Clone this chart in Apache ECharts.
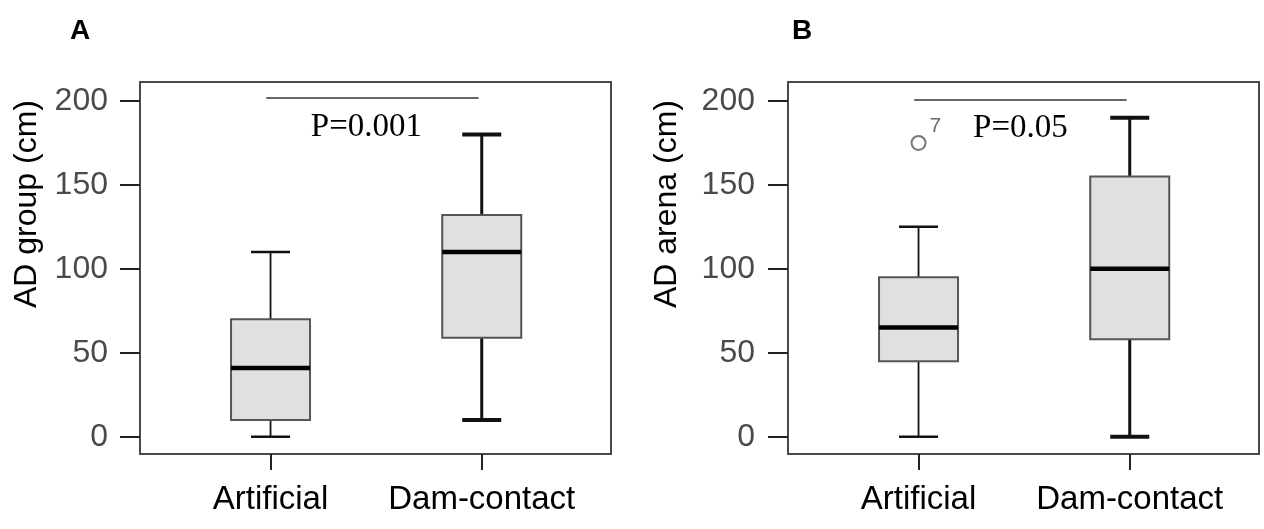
<!DOCTYPE html>
<html>
<head>
<meta charset="utf-8">
<script src="https://cdn.jsdelivr.net/npm/echarts@6/dist/echarts.min.js"></script>
<style>
  html, body { margin: 0; padding: 0; background: #fff; }
  #chart { width: 1264px; height: 529px; }
</style>
</head>
<body>
<div id="chart"></div>
<script>
var categories = ['Artificial', 'Dam-contact'];
var yTicks = [0, 50, 100, 150, 200];
// [min, Q1, median, Q3, max] per category
var groupBoxes = [[0, 10, 41, 70, 110], [10, 59, 110, 132, 180]];
var arenaBoxes = [[0, 45, 65, 95, 125], [0, 58, 100, 155, 190]];
// [category index, value, case number]
var arenaOutliers = [[0, 175, '7']];
var groupP = 'P=0.001';
var arenaP = 'P=0.05';

var SANS = "'Liberation Sans', Arial, sans-serif";
var SERIF = "'Liberation Serif', 'Times New Roman', serif";
var BOX_W = 79;
var CAP_W = 39;
// whisker / cap thickness per category (the second group is drawn heavier)
var whiskerLine = [1.8, 3];
var capLine = [2.5, 4];

function renderBox(params, api) {
  var x = api.value(0);
  var lo = api.coord([x, api.value(1)]);
  var q1 = api.coord([x, api.value(2)]);
  var md = api.coord([x, api.value(3)]);
  var q3 = api.coord([x, api.value(4)]);
  var hi = api.coord([x, api.value(5)]);
  var cx = lo[0], hw = BOX_W / 2, hc = CAP_W / 2;
  var i = params.dataIndex;
  var ws = { stroke: '#111', lineWidth: whiskerLine[i] };
  var cs = { stroke: '#111', lineWidth: capLine[i] };
  return {
    type: 'group',
    children: [
      { type: 'line', shape: { x1: cx, y1: q1[1], x2: cx, y2: lo[1] }, style: ws },
      { type: 'line', shape: { x1: cx, y1: q3[1], x2: cx, y2: hi[1] }, style: ws },
      { type: 'line', shape: { x1: cx - hc, y1: lo[1], x2: cx + hc, y2: lo[1] }, style: cs },
      { type: 'line', shape: { x1: cx - hc, y1: hi[1], x2: cx + hc, y2: hi[1] }, style: cs },
      { type: 'rect', shape: { x: cx - hw, y: q3[1], width: BOX_W, height: q1[1] - q3[1] },
        style: { fill: '#e0e0e0', stroke: '#555', lineWidth: 2 } },
      { type: 'line', shape: { x1: cx - hw, y1: md[1], x2: cx + hw, y2: md[1] },
        style: { stroke: '#000', lineWidth: 4.5 } }
    ]
  };
}

function makeX(idx) {
  return {
    gridIndex: idx,
    type: 'value',
    min: -0.618,
    max: 1.612,
    axisLine: { show: false, onZero: false },
    axisTick: { show: true, customValues: [0, 1], length: 16, lineStyle: { color: '#222', width: 2 } },
    axisLabel: {
      customValues: [0, 1],
      formatter: function (v) { return categories[Math.round(v)]; },
      fontFamily: SANS, fontSize: 33, color: '#000', margin: 29
    },
    splitLine: { show: false }
  };
}

function makeY(idx, name, gap, labelMargin) {
  return {
    gridIndex: idx,
    type: 'value',
    min: -10.3,
    max: 211.3,
    axisLine: { show: false, onZero: false },
    axisTick: { show: true, customValues: yTicks, length: 20, lineStyle: { color: '#222', width: 2 } },
    axisLabel: { customValues: yTicks, fontFamily: SANS, fontSize: 32, color: '#4a4a4a', margin: labelMargin },
    splitLine: { show: false },
    name: name,
    nameLocation: 'middle',
    nameGap: gap,
    nameTextStyle: { fontFamily: SANS, fontSize: 32, color: '#000', padding: [0, 0, 0, 128] }
  };
}

function sigLine(y, text, pad) {
  return {
    silent: true,
    symbol: ['none', 'none'],
    lineStyle: { color: '#333', width: 1.5, type: 'solid' },
    label: {
      show: true, position: 'insideMiddleBottom', formatter: text,
      fontFamily: SERIF, fontSize: 33, color: '#000', distance: 13, padding: pad
    },
    emphasis: { disabled: true },
    data: [[{ coord: [-0.02, y] }, { coord: [0.985, y] }]]
  };
}

function withIndex(boxes) {
  return boxes.map(function (b, i) { return [i].concat(b); });
}

var gridStyle = { show: true, borderColor: '#4a4a4a', borderWidth: 2, backgroundColor: 'transparent' };
var panelTitle = { fontFamily: SANS, fontSize: 28, fontWeight: 'bold', color: '#000' };

var option = {
  animation: false,
  backgroundColor: '#fff',
  title: [
    { text: 'A', left: 65, top: 12, textStyle: panelTitle },
    { text: 'B', left: 787, top: 12, textStyle: panelTitle }
  ],
  grid: [
    Object.assign({ left: 140, top: 82, width: 471, height: 372 }, gridStyle),
    Object.assign({ left: 788, top: 82, width: 471, height: 372 }, gridStyle)
  ],
  xAxis: [makeX(0), makeX(1)],
  yAxis: [makeY(0, 'AD group (cm)', 97, 32), makeY(1, 'AD arena (cm)', 105, 33)],
  series: [
    {
      type: 'custom', xAxisIndex: 0, yAxisIndex: 0,
      renderItem: renderBox,
      encode: { x: 0, y: [1, 2, 3, 4, 5] },
      data: withIndex(groupBoxes),
      markLine: sigLine(202, groupP, [0, 12, 0, 0])
    },
    {
      type: 'custom', xAxisIndex: 1, yAxisIndex: 1,
      renderItem: renderBox,
      encode: { x: 0, y: [1, 2, 3, 4, 5] },
      data: withIndex(arenaBoxes),
      markLine: sigLine(201, arenaP, 0)
    },
    {
      type: 'scatter', xAxisIndex: 1, yAxisIndex: 1,
      symbol: 'circle', symbolSize: 14,
      itemStyle: { color: '#fff', borderColor: '#555', borderWidth: 2 },
      label: {
        show: true, position: 'right', distance: 3, offset: [0, -17],
        formatter: '{b}', fontFamily: SANS, fontSize: 21, color: '#444'
      },
      data: arenaOutliers.map(function (o) { return { name: o[2], value: [o[0], o[1]] }; })
    }
  ]
};

var chart = echarts.init(document.getElementById('chart'));
chart.setOption(option);
</script>
</body>
</html>
